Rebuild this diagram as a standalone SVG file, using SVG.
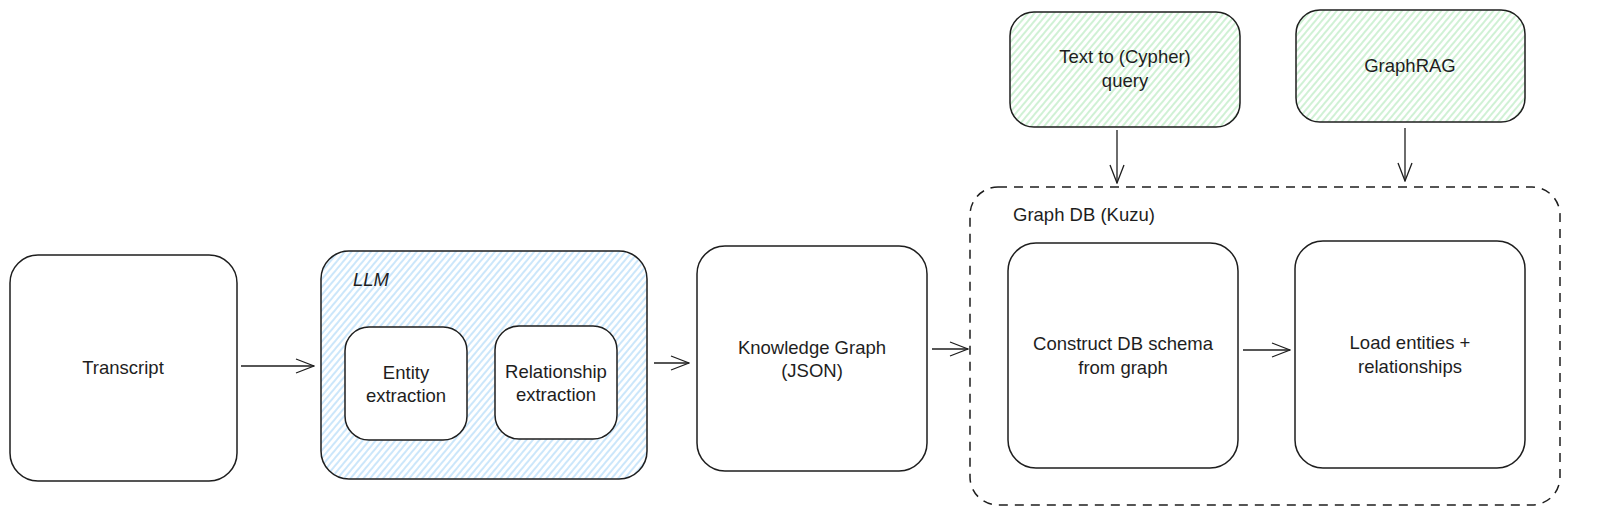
<svg xmlns="http://www.w3.org/2000/svg" width="1604" height="527" viewBox="0 0 1604 527">
<defs>
<pattern id="hBlue" width="5" height="5" patternUnits="userSpaceOnUse" patternTransform="rotate(40)">
<line x1="1" y1="0" x2="1" y2="5" stroke="#8cc8f5" stroke-width="0.9"/>
</pattern>
<pattern id="hGreen" width="5" height="5" patternUnits="userSpaceOnUse" patternTransform="rotate(40)">
<line x1="1" y1="0" x2="1" y2="5" stroke="#96e0a2" stroke-width="0.9"/>
</pattern>
<marker id="arr" viewBox="0 0 20 20" refX="19" refY="10" markerWidth="20" markerHeight="20" markerUnits="userSpaceOnUse" orient="auto">
<path d="M1,3 L19,10 L1,17" fill="none" stroke="#1e1e1e" stroke-width="1.3"/>
</marker>
</defs>
<style>
.box{fill:#ffffff;stroke:#1e1e1e;stroke-width:1.5}
.blue{fill:url(#hBlue);stroke:#1e1e1e;stroke-width:1.5}
.green{fill:url(#hGreen);stroke:#1e1e1e;stroke-width:1.5}
.dash{fill:none;stroke:#1e1e1e;stroke-width:1.5;stroke-dasharray:9 7}
.t{font-family:"Liberation Sans",Arial,sans-serif;font-size:18.5px;fill:#1e1e1e;text-anchor:middle}
.tl{font-family:"Liberation Sans",Arial,sans-serif;font-size:18.5px;fill:#1e1e1e}
.c{fill:none;stroke:#1e1e1e;stroke-width:1.3;marker-end:url(#arr)}
</style>
<rect width="1604" height="527" fill="#ffffff"/>

<g id="graphdb">
<rect class="dash" x="970" y="187" width="590" height="318" rx="28"/>
<text class="tl" x="1013" y="221">Graph DB (Kuzu)</text>
</g>

<g id="transcript">
<rect class="box" x="10" y="255" width="227" height="226" rx="28"/>
<text class="t" x="123" y="374">Transcript</text>
</g>

<g id="llm">
<rect class="blue" x="321" y="251" width="326" height="228" rx="28"/>
<text class="tl" x="353" y="286" font-style="italic">LLM</text>
</g>

<g id="entity">
<rect class="box" x="345" y="327" width="122" height="113" rx="24"/>
<text class="t" x="406" y="379">Entity</text>
<text class="t" x="406" y="402">extraction</text>
</g>

<g id="relationship">
<rect class="box" x="495" y="326" width="122" height="113" rx="24"/>
<text class="t" x="556" y="378">Relationship</text>
<text class="t" x="556" y="401">extraction</text>
</g>

<g id="kg">
<rect class="box" x="697" y="246" width="230" height="225" rx="28"/>
<text class="t" x="812" y="354">Knowledge Graph</text>
<text class="t" x="812" y="377">(JSON)</text>
</g>

<g id="construct">
<rect class="box" x="1008" y="243" width="230" height="225" rx="28"/>
<text class="t" x="1123" y="350">Construct DB schema</text>
<text class="t" x="1123" y="374">from graph</text>
</g>

<g id="load">
<rect class="box" x="1295" y="241" width="230" height="227" rx="28"/>
<text class="t" x="1410" y="349">Load entities +</text>
<text class="t" x="1410" y="373">relationships</text>
</g>

<g id="text2cypher">
<rect class="green" x="1010" y="12" width="230" height="115" rx="24"/>
<text class="t" x="1125" y="63">Text to (Cypher)</text>
<text class="t" x="1125" y="87">query</text>
</g>

<g id="graphrag">
<rect class="green" x="1296" y="10" width="229" height="112" rx="24"/>
<text class="t" x="1410" y="72">GraphRAG</text>
</g>

<g id="connectors">
<path class="c" d="M241,366 L314,366"/>
<path class="c" d="M654,363 L689,363"/>
<path class="c" d="M932,349 L968,349"/>
<path class="c" d="M1243,350 L1290,350"/>
<path class="c" d="M1117,130 L1117,183"/>
<path class="c" d="M1405,128 L1405,181"/>
</g>
</svg>
